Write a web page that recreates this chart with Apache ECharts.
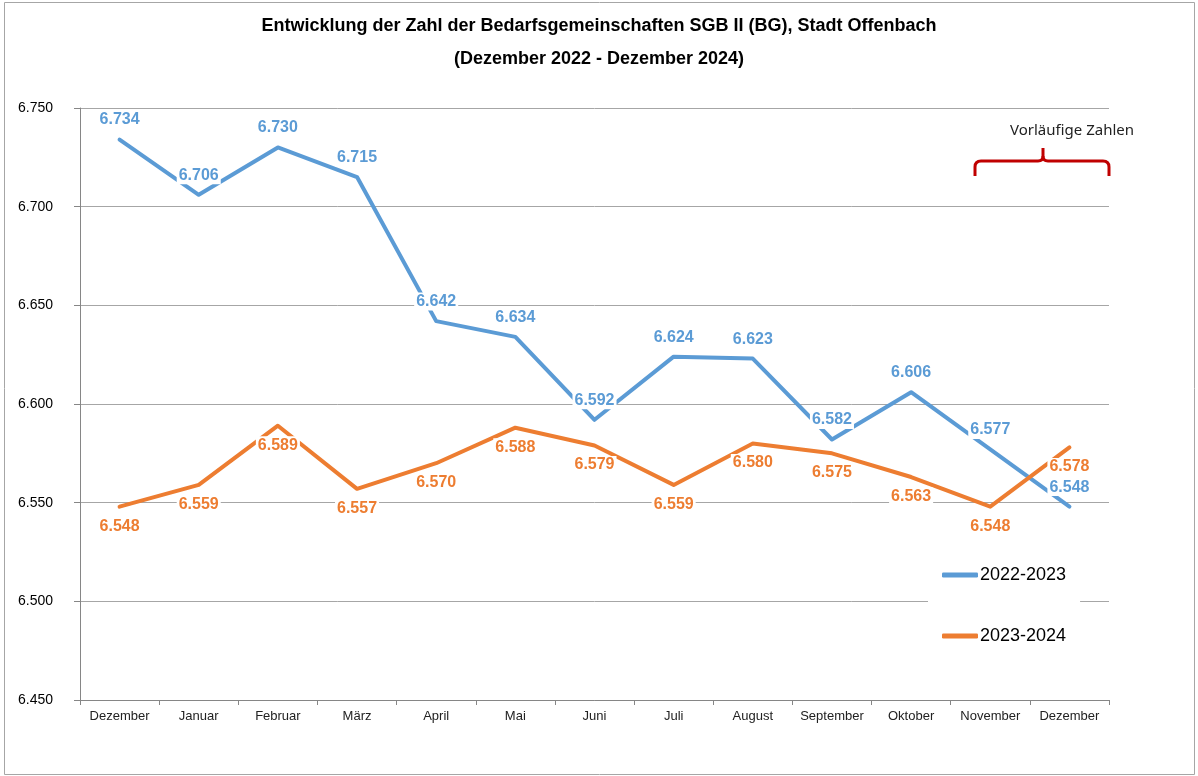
<!DOCTYPE html>
<html>
<head>
<meta charset="utf-8">
<script src="https://cdn.jsdelivr.net/npm/echarts@6/dist/echarts.min.js"></script>
<style>
  html, body { margin: 0; padding: 0; background: #fff; }
  #main { width: 1198px; height: 776px; }
</style>
</head>
<body>
<div id="main"></div>
<script>
const months = ['Dezember', 'Januar', 'Februar', 'März', 'April', 'Mai', 'Juni', 'Juli', 'August', 'September', 'Oktober', 'November', 'Dezember']
const seriesNames = ['2022-2023', '2023-2024']
const values2223 = [6734, 6706, 6730, 6715, 6642, 6634, 6592, 6624, 6623, 6582, 6606, 6577, 6548]
const values2324 = [6548, 6559, 6589, 6557, 6570, 6588, 6579, 6559, 6580, 6575, 6563, 6548, 6578]
const yMin = 6450
const yMax = 6750
const yStep = 50

const colors = ['#5B9BD5', '#ED7D31']

// 6734 -> "6.734"
function fmt(v) {
  return String(v).replace(/\B(?=(\d{3})+(?!\d))/g, '.')
}

function lineSeries(name, data, color, pos) {
  return {
    name: name,
    type: 'line',
    data: data,
    symbol: 'circle',
    symbolSize: 1,
    itemStyle: { color: color },
    lineStyle: { color: color, width: 4, cap: 'round', join: 'round' },
    label: {
      show: true,
      position: pos,
      distance: 10,
      formatter: (p) => fmt(p.value),
      color: color,
      fontFamily: 'Liberation Sans, Arial',
      fontWeight: 'bold',
      fontSize: 16,
      backgroundColor: '#fff',
      padding: [1, 2],
    },
    emphasis: { disabled: true },
    z: 3,
  }
}

// red curly bracket above the provisional months
const red = { fill: 'none', stroke: '#C00000', lineWidth: 3 }
function seg(x1, y1, x2, y2) {
  return { type: 'line', shape: { x1, y1, x2, y2 }, style: red, silent: true }
}
function curve(x1, y1, cx, cy, x2, y2) {
  return { type: 'bezierCurve', shape: { x1, y1, x2, y2, cpx1: cx, cpy1: cy }, style: red, silent: true }
}

var myChart = echarts.init(document.getElementById('main'))

let option = {
  animation: false,
  backgroundColor: '#fff',
  title: {
    text: 'Entwicklung der Zahl der Bedarfsgemeinschaften SGB II (BG), Stadt Offenbach\n(Dezember 2022 - Dezember 2024)',
    left: 'center',
    top: 5,
    textStyle: {
      fontFamily: 'Liberation Sans, Arial',
      fontSize: 18,
      fontWeight: 'bold',
      color: '#000',
      lineHeight: 33,
    },
  },
  grid: {
    left: 80,
    right: 89,
    top: 108,
    bottom: 76,
  },
  legend: {
    orient: 'vertical',
    left: 928,
    top: 558,
    itemGap: 43,
    itemWidth: 36,
    itemHeight: 5,
    icon: 'roundRect',
    backgroundColor: '#fff',
    padding: [8, 14, 8, 14],
    textStyle: {
      fontFamily: 'Liberation Sans, Arial',
      fontSize: 18,
      color: '#000',
      padding: [0, 0, 0, -3],
    },
    data: seriesNames,
  },
  xAxis: {
    type: 'category',
    data: months,
    boundaryGap: true,
    axisLine: { lineStyle: { color: '#868686', width: 1 } },
    axisTick: { show: true, length: 5, lineStyle: { color: '#868686' } },
    axisLabel: {
      fontFamily: 'Liberation Sans, Arial',
      fontSize: 13,
      color: '#222',
      margin: 10,
      interval: 0,
    },
  },
  yAxis: {
    type: 'value',
    min: yMin,
    max: yMax,
    interval: yStep,
    axisLine: { show: true, lineStyle: { color: '#868686', width: 1 } },
    axisTick: { show: true, length: 6, lineStyle: { color: '#868686' } },
    axisLabel: {
      formatter: (v) => fmt(v),
      fontFamily: 'Liberation Sans, Arial',
      fontSize: 14,
      color: '#000',
      margin: 27,
    },
    splitLine: {
      show: true,
      lineStyle: { color: '#a6a6a6', width: 1 },
    },
  },
  series: [
    lineSeries(seriesNames[0], values2223, colors[0], 'top'),
    lineSeries(seriesNames[1], values2324, colors[1], 'bottom'),
  ],
  graphic: [
    {
      type: 'rect',
      shape: { x: 4.5, y: 2.5, width: 1190, height: 772 },
      style: { fill: 'none', stroke: '#a6a6a6', lineWidth: 1 },
      silent: true,
      z: 0,
    },
    {
      type: 'text',
      x: 1072,
      y: 131,
      style: {
        text: 'Vorläufige Zahlen',
        font: '15px "Noto Sans", "Liberation Sans", Arial',
        fill: '#222',
        align: 'center',
        verticalAlign: 'middle',
      },
      silent: true,
    },
    seg(975, 176, 975, 167),
    curve(975, 167, 975, 161, 981, 161),
    seg(981, 161, 1038, 161),
    curve(1038, 161, 1043, 161, 1043, 156),
    curve(1043, 156, 1043, 161, 1048, 161),
    seg(1043, 156, 1043, 148),
    seg(1048, 161, 1103, 161),
    curve(1103, 161, 1109, 161, 1109, 167),
    seg(1109, 167, 1109, 176),
  ],
}

myChart.setOption(option)
</script>
</body>
</html>
